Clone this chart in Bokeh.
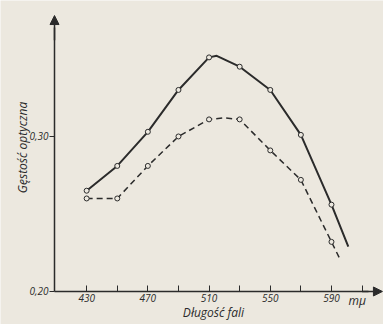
import math
from bokeh.plotting import figure
from bokeh.models import FixedTicker, Range1d, Arrow, NormalHead, Label
from bokeh.embed import file_html
from bokeh.resources import INLINE

# data
wavelength = [430, 450, 470, 490, 510, 530, 550, 570, 590]
solid = [0.265, 0.281, 0.303, 0.330, 0.351, 0.345, 0.330, 0.301, 0.256]
dashed = [0.260, 0.260, 0.281, 0.300, 0.311, 0.311, 0.291, 0.272, 0.232]
# curve paths (marked points plus the visible curve ends / peak)
solid_line_x = [430, 450, 470, 490, 510, 515, 530, 550, 570, 590, 601]
solid_line_y = [0.265, 0.281, 0.303, 0.330, 0.351, 0.352, 0.345, 0.330, 0.301, 0.256, 0.229]
dashed_line_x = [430, 450, 470, 490, 510, 520, 530, 550, 570, 590, 596]
dashed_line_y = [0.260, 0.260, 0.281, 0.300, 0.311, 0.312, 0.311, 0.291, 0.272, 0.232, 0.220]
x_ticks = [430, 450, 470, 490, 510, 530, 550, 570, 590, 610]
x_labels = {430: "430", 470: "470", 510: "510", 550: "550", 590: "590"}
y_ticks = [0.20, 0.30]
y_labels = {0.2: "0,20", 0.3: "0,30"}
x_title = "Długość fali"
y_title = "Gęstość optyczna"
x_unit = "mμ"

BG = "#ece8df"
INK = "#2b2b2b"
FONT = "Open Sans"

X0, X1 = 373.7, 624.0
Y0, Y1 = 0.1787, 0.3877
X_ORIGIN, Y_ORIGIN = 409, 0.20

p = figure(width=383, height=324, output_backend="svg", toolbar_location=None,
           x_range=Range1d(X0, X1), y_range=Range1d(Y0, Y1),
           min_border_left=0, min_border_right=0, min_border_top=0, min_border_bottom=0)
p.background_fill_color = BG
p.border_fill_color = BG
p.outline_line_color = None
p.grid.visible = False

p.xaxis.fixed_location = Y_ORIGIN
p.yaxis.fixed_location = X_ORIGIN
p.xaxis.bounds = (X_ORIGIN, 614)
p.yaxis.bounds = (Y_ORIGIN, 0.370)

p.xaxis.ticker = FixedTicker(ticks=x_ticks)
p.xaxis.major_label_overrides = {t: x_labels.get(t, "") for t in x_ticks}
p.xaxis.major_tick_in = 6
p.xaxis.major_tick_out = 0
p.xaxis.major_label_standoff = 3

p.yaxis.ticker = FixedTicker(ticks=y_ticks)
p.yaxis.major_label_overrides = y_labels
p.yaxis.major_tick_in = 0
p.yaxis.major_tick_out = 5
p.yaxis.major_label_standoff = 1

for ax in (p.xaxis, p.yaxis):
    ax.minor_tick_line_color = None
    ax.axis_line_color = INK
    ax.axis_line_width = 1.5
    ax.major_tick_line_color = INK
    ax.major_tick_line_width = 1
    ax.major_label_text_font = FONT
    ax.major_label_text_font_style = "italic"
    ax.major_label_text_font_size = "10px"
    ax.major_label_text_color = INK

# axis arrow heads
p.add_layout(Arrow(end=NormalHead(size=9, fill_color=INK, line_color=INK, line_width=1),
                   x_start=X_ORIGIN, y_start=0.362, x_end=X_ORIGIN, y_end=0.378,
                   line_color=INK, line_width=1.5))
p.add_layout(Arrow(end=NormalHead(size=9, fill_color=INK, line_color=INK, line_width=1),
                   x_start=610, y_start=Y_ORIGIN, x_end=623.3, y_end=Y_ORIGIN,
                   line_color=INK, line_width=1.5))

p.line(solid_line_x, solid_line_y, line_color=INK, line_width=2)
p.line(dashed_line_x, dashed_line_y, line_color=INK, line_width=1.5, line_dash="6 4")
p.scatter(wavelength, solid, size=5, marker="circle", fill_color=BG, line_color=INK, line_width=1)
p.scatter(wavelength, dashed, size=5, marker="circle", fill_color=BG, line_color=INK, line_width=1)

p.add_layout(Label(x=601.2, y=0.1942, text=x_unit, text_font=FONT,
                   text_font_style="italic", text_font_size="12px", text_color=INK,
                   text_align="left", text_baseline="middle"))
p.add_layout(Label(x=512.9, y=0.1865, text=x_title, text_font=FONT,
                   text_font_style="italic", text_font_size="12px", text_color=INK,
                   text_align="center", text_baseline="middle"))
p.add_layout(Label(x=388.1, y=0.2929, text=y_title, text_font=FONT, angle=math.pi / 2,
                   text_font_style="italic", text_font_size="12px", text_color=INK,
                   text_align="center", text_baseline="middle"))

open("out.html", "w").write(file_html(p, INLINE))
